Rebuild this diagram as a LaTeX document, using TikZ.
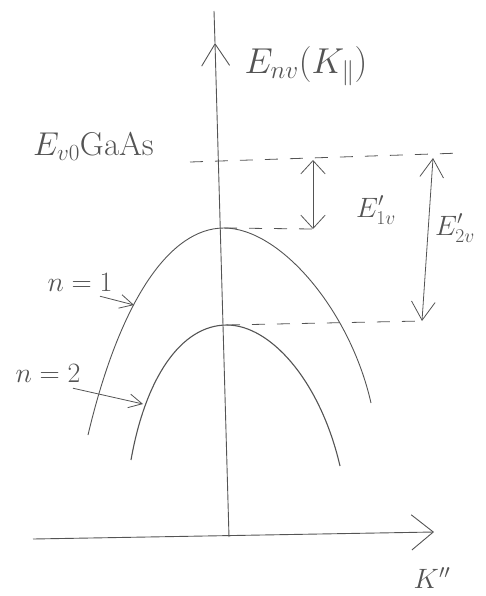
\RequirePackage{fix-cm}
\documentclass[tikz,border=0pt]{standalone}
\usepackage{amsmath,amssymb}
\usepackage{xcolor}
\usetikzlibrary{arrows.meta, positioning, calc}

\definecolor{pencil}{gray}{0.33}

\begin{document}
\begin{tikzpicture}[
    x=1pt, y=-1pt,
    axis/.style={draw=pencil, line width=0.9pt},
    band/.style={draw=pencil, line width=0.9pt},
    level/.style={draw=pencil, line width=0.8pt, dash pattern=on 13pt off 12pt},
    gap/.style={{Straight Barb[angle=85:18pt]}-{Straight Barb[angle=85:18pt]}, draw=pencil, line width=0.8pt},
    widegap/.style={{Straight Barb[angle=65:22pt]}-{Straight Barb[angle=65:22pt]}, draw=pencil, line width=0.8pt},
    pointer/.style={-{Straight Barb[angle=55:15pt]}, draw=pencil, line width=0.8pt},
    lbl/.style={text=pencil, inner sep=1pt, font=\fontsize{36}{40}\selectfont},
    smalllbl/.style={text=pencil, inner sep=1pt, font=\fontsize{28}{32}\selectfont}
]
\useasboundingbox (0,0) rectangle (485,596);

% Axes
\coordinate (eaxisB) at (229,537);
\coordinate (etip) at (215,43);
\coordinate (eaxisT) at (214,11);
\coordinate (kaxisL) at (33,539);
\coordinate (kaxisR) at (434,532);
\draw[axis, -{Straight Barb[angle=65:26pt]}] (eaxisB) -- (etip);
\draw[axis] (etip) -- (eaxisT);
\draw[axis, -{Straight Barb[angle=78:28pt]}] (kaxisL) -- (kaxisR);

\node[lbl] (elabel) at (306,66) {$E_{nv}(K_{\parallel})$};
\node[smalllbl] (klabel) at (432,578) {$K''$};

% Band edges
\coordinate (peak1) at (224,228);
\coordinate (peak2) at (227,325);
\draw[band] (88,435) .. controls (120,300) and (170,228) .. (peak1)
            .. controls (280,228) and (350,310) .. (371,403);
\draw[band, line width=1.1pt] (131,460) .. controls (145,380) and (180,325) .. (peak2)
            .. controls (270,325) and (320,380) .. (340,466);

% Levels
\node[smalllbl, anchor=west, font=\fontsize{33}{36}\selectfont] (gaas) at (32,147) {$E_{v0}\mathrm{GaAs}$};
\coordinate (lvl0L) at (190,162);
\coordinate (lvl0R) at (462,153);
\coordinate (gap1T) at (313,160);
\coordinate (gap1B) at (313,229);
\coordinate (gap2T) at (433,158);
\coordinate (gap2B) at (422,321);
\draw[level] (lvl0L) -- (lvl0R);
\draw[level] (peak1) -- (gap1B);
\draw[level] (peak2) -- (gap2B);

\draw[gap] (gap1T) -- (gap1B);
\draw[widegap] (gap2T) -- (gap2B);
\node[smalllbl] (e1lbl) at (376,210) {$E'_{1v}$};
\node[smalllbl] (e2lbl) at (455,228) {$E'_{2v}$};

% Subband labels
\node[smalllbl] (n1) at (80,282) {$n=1$};
\node[smalllbl] (n2) at (48,373) {$n=2$};
\coordinate (n1hit) at (134,305);
\coordinate (n2hit) at (143,404);
\draw[pointer] ($(n1.south)+(20,4)$) -- (n1hit);
\draw[pointer] ($(n2.south)+(25,5)$) -- (n2hit);

\end{tikzpicture}
\end{document}
